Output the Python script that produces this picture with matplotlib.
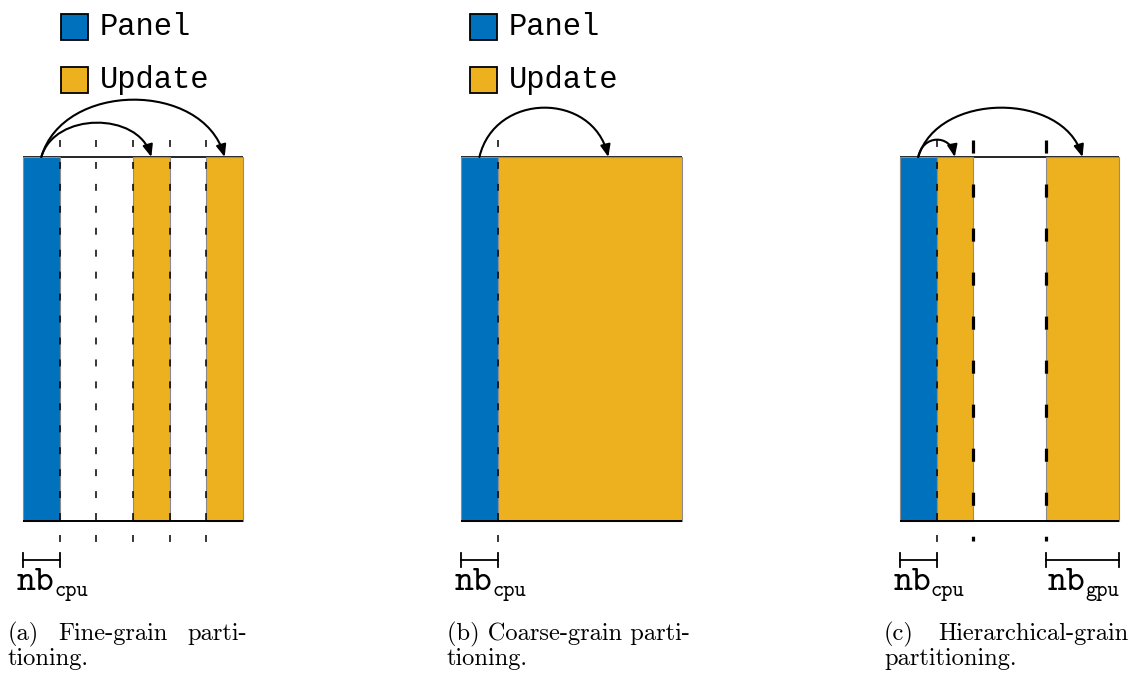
import matplotlib
matplotlib.use("Agg")
import matplotlib.pyplot as plt
from matplotlib.patches import Rectangle, FancyArrowPatch
from matplotlib.path import Path

plt.rcParams['lines.scale_dashes'] = False

W, H = 1131, 673
COLORS = {'Panel': '#0072BD', 'Update': '#EDB120'}

# ---------------- data (block units = nb_cpu) ----------------
legend_labels = ['Panel', 'Update']
panels = ['a', 'b', 'c']
panel_units = 6
block_kinds = {'a': ['Panel', 'Update', 'Update'],
               'b': ['Panel', 'Update'],
               'c': ['Panel', 'Update', 'Update']}
block_starts = {'a': [0, 3, 5], 'b': [0, 1], 'c': [0, 1, 4]}
block_sizes = {'a': [1, 1, 1], 'b': [1, 5], 'c': [1, 1, 2]}
thin_dividers = {'a': [1, 2, 3, 4, 5], 'b': [1], 'c': [1]}
thick_dividers = {'a': [], 'b': [], 'c': [2, 4]}
arrow_src = {'a': 0.5, 'b': 0.5, 'c': 0.5}
arrow_dst = {'a': [3.5, 5.5], 'b': [4.0], 'c': [1.5, 5.0]}
bracket_start = {'a': [0], 'b': [0], 'c': [0, 4]}
bracket_end = {'a': [1], 'b': [1], 'c': [1, 6]}
bracket_sub = {'a': ['cpu'], 'b': ['cpu'], 'c': ['cpu', 'gpu']}
caption_line1 = {'a': ['(a)', 'Fine-grain', 'parti-'],
                 'b': ['(b) Coarse-grain parti-'],
                 'c': ['(c)', 'Hierarchical-grain']}
caption_line2 = {'a': 'tioning.', 'b': 'tioning.', 'c': 'partitioning.'}

# ---------------- layout / style ----------------
panel_left_px = {'a': 23, 'b': 461, 'c': 900}
panel_width_px = {'a': 220, 'b': 221, 'c': 219}
TOP, BOT = 157, 521
arrow_heights = {'a': [34, 57], 'b': [49], 'c': [17, 49]}
legend_x_px = {'a': 61, 'b': 470}
legend_y_px = [14, 67]
caption_pos = {'a': [('left', 8), ('left', 58), ('right', 247)],
               'b': [('left', 447)],
               'c': [('left', 884), ('right', 1129)]}
caption_x2 = {'a': 8, 'b': 447, 'c': 884}
label_shift = {'cpu': -6, 'gpu': 2}

fig = plt.figure(figsize=(W / 100, H / 100), dpi=100)
fig.patch.set_facecolor('white')

# overlay axes in pixel coordinates for text
ov = fig.add_axes([0, 0, 1, 1])
ov.set_xlim(0, W)
ov.set_ylim(H, 0)
ov.axis('off')

mono = 'Liberation Mono'
tt = 'cmtt10'
rm = 'cmr10'
CAP_FS = 17.6

for p in panels:
    x0 = panel_left_px[p]
    wpx = panel_width_px[p]
    ax = fig.add_axes([x0 / W, 0, wpx / W, 1])
    ax.set_xlim(0, panel_units)
    ax.set_ylim(H, 0)
    ax.axis('off')
    ax.set_zorder(2)
    ax.patch.set_alpha(0)

    # frame top line (black, visible over white columns)
    ax.plot([0, panel_units], [TOP, TOP], color='black', lw=1.2, zorder=1,
            solid_capstyle='butt', clip_on=False)
    # blocks
    for k, s, w in zip(block_kinds[p], block_starts[p], block_sizes[p]):
        ax.add_patch(Rectangle((s, TOP), w, BOT - TOP, facecolor=COLORS[k],
                               edgecolor='#8c8c8c', lw=0.8, zorder=2,
                               clip_on=False))
    # bottom line
    ax.plot([0, panel_units], [BOT, BOT], color='black', lw=1.4, zorder=3,
            solid_capstyle='butt', clip_on=False)

    # dividers
    for u in thin_dividers[p]:
        ax.plot([u, u], [140, 546], color='black', lw=1.1,
                linestyle=(0, (5, 10.8)), zorder=4, clip_on=False)
    for u in thick_dividers[p]:
        ax.plot([u, u], [140, 541], color='black', lw=2.3,
                linestyle=(0, (9.4, 22.3)), zorder=4, clip_on=False)

    # arrows
    for d, h in zip(arrow_dst[p], arrow_heights[p]):
        s = arrow_src[p]
        L = d - s
        k = h / 0.75
        verts = [(s, TOP), (s + 0.12 * L, TOP - k), (d - 0.12 * L, TOP - k), (d, TOP)]
        path = Path(verts, [Path.MOVETO, Path.CURVE4, Path.CURVE4, Path.CURVE4])
        arr = FancyArrowPatch(path=path,
                              arrowstyle='-|>,head_length=0.6,head_width=0.25',
                              mutation_scale=12, color='black', lw=1.5,
                              zorder=5, clip_on=False)
        ax.add_patch(arr)

    # brackets
    for s, e, sub in zip(bracket_start[p], bracket_end[p], bracket_sub[p]):
        ax.plot([s, e], [560, 560], color='black', lw=1.3, clip_on=False)
        ax.plot([s, s], [553, 567], color='black', lw=1.3, clip_on=False)
        ax.plot([e, e], [553, 567], color='black', lw=1.3, clip_on=False)
        xl = x0 + s * wpx / panel_units + label_shift[sub]
        ov.text(xl, 590, 'nb', fontfamily=tt, fontsize=26,
                ha='left', va='baseline')
        ov.text(xl + 37, 596, sub, fontfamily=tt, fontsize=15.5,
                ha='left', va='baseline')

    # captions
    for word, (ha, xp) in zip(caption_line1[p], caption_pos[p]):
        ov.text(xp, 640, word, fontfamily=rm, fontsize=CAP_FS, ha=ha, va='baseline')
    ov.text(caption_x2[p], 665, caption_line2[p], fontfamily=rm, fontsize=CAP_FS,
            ha='left', va='baseline')

# legends
for p, lx in legend_x_px.items():
    for lab, ly in zip(legend_labels, legend_y_px):
        ov.add_patch(Rectangle((lx, ly), 27, 26, facecolor=COLORS[lab],
                               edgecolor='black', lw=1.3))
        ov.text(lx + 39, ly + 13, lab, fontfamily=mono, fontsize=22,
                ha='left', va='center')

fig.savefig('out.png', dpi=100, facecolor='white')
